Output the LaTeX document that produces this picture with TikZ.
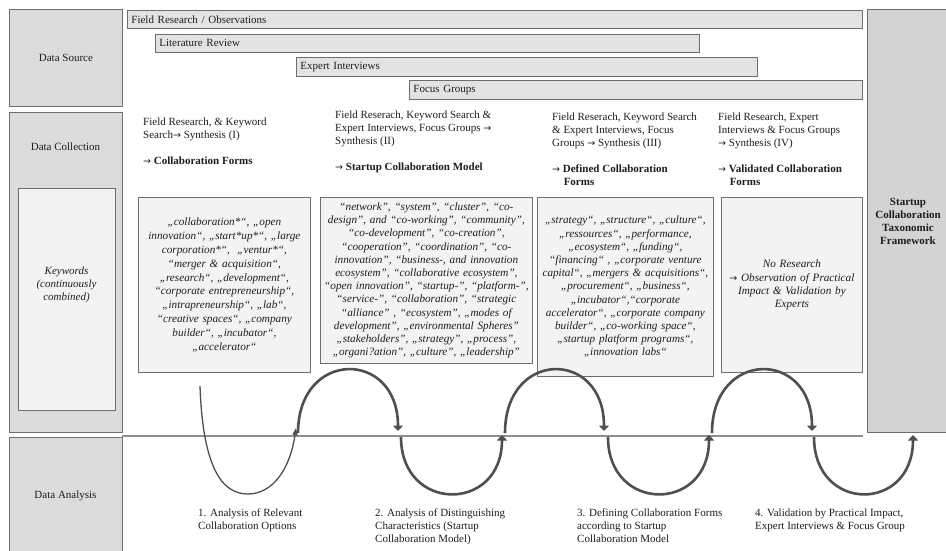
\documentclass[tikz,border=0pt]{standalone}
\usepackage{fontspec}
\setmainfont{Liberation Serif}
\newfontfamily\arrfont{DejaVu Sans}
\usetikzlibrary{arrows.meta}
\definecolor{boxgray}{HTML}{DCDCDC}
\definecolor{bargray}{HTML}{E3E3E3}
\definecolor{kwgray}{HTML}{F3F3F3}
\definecolor{edgegray}{HTML}{6E6E6E}
\definecolor{arcgray}{HTML}{4F4F4F}
\definecolor{linegray}{HTML}{8E8E8E}
\definecolor{txt}{HTML}{1E1E1E}
\newcommand{\kwfont}{\fontsize{11.2}{13.2}\selectfont\itshape}
\newcommand{\hdfont}{\fontsize{11}{13}\selectfont}
\newcommand{\arr}{{\arrfont\fontsize{9.5}{9.5}\selectfont →}}
\tikzset{
  sidebox/.style={draw=edgegray, fill=boxgray, line width=0.8pt, anchor=north west, inner sep=0pt},
  innerbox/.style={draw=edgegray, fill=kwgray, line width=0.8pt, anchor=north west, inner sep=0pt},
  barbox/.style={draw=edgegray, fill=bargray, line width=0.8pt, anchor=north west, inner xsep=4pt, inner ysep=0pt, align=left, font=\hdfont, text=txt},
  kwbox/.style={draw=edgegray, fill=kwgray, line width=0.8pt, anchor=north west, inner xsep=1pt, inner ysep=0pt, align=center, font=\kwfont, text=txt},
  sidelabel/.style={font=\hdfont, text=txt, align=center},
  head/.style={font=\hdfont, text=txt, align=left, anchor=north west, inner sep=0pt},
  foot/.style={font=\hdfont, text=txt, align=left, anchor=north west, inner sep=0pt},
  uparc/.style={draw=arcgray, line width=2.6pt, -{Triangle[width=10pt,length=5.5pt]}},
  thinarc/.style={draw=arcgray, line width=1.3pt, -{Triangle[width=5pt,length=7pt]}},
}
\begin{document}
\begin{tikzpicture}[x=1pt,y=-1pt]
\clip (0,0) rectangle (946,550);
\fill[white] (0,0) rectangle (946,550);

% left column
\node[sidebox, minimum width=113, minimum height=97] (ds) at (9,9) {};
\node[sidelabel] (dslabel) at (ds.center) {Data Source};
\node[sidebox, minimum width=113, minimum height=320] (dc) at (9,112) {};
\node[sidelabel] (dclabel) at (65.5,147) {Data Collection};
\node[innerbox, minimum width=97, minimum height=222] (kw) at (18,188) {};
\node[sidelabel, font=\hdfont\itshape] (kwlabel) at (66.5,285) {Keywords\\(continuously\\combined)};
\node[sidebox, minimum width=113, minimum height=120] (da) at (9,437) {};
\node[sidelabel] (dalabel) at (65.5,496) {Data Analysis};

% right column
\node[sidebox, fill=boxgray!96!black, minimum width=85, minimum height=423] (tf) at (867,9) {};
\node[sidelabel, font=\hdfont\bfseries, anchor=north] (tflabel) at (908,195) {Startup\\Collaboration\\Taxonomic\\Framework};

% data source bars
\node[barbox, text width=727, minimum height=18] (fr) at (127,10) {Field Research / Observations};
\node[barbox, text width=536, minimum height=18] (lr) at (155,34) {Literature Review};
\node[barbox, text width=453, minimum height=19] (ei) at (296,57) {Expert Interviews};
\node[barbox, text width=445, minimum height=19] (fg) at (409,80) {Focus Groups};

% column headers
\node[head] (h1) at (143,118) {Field Research, \& Keyword\\Search\arr{} Synthesis (I)\\[13pt]\arr{} \textbf{Collaboration Forms}};
\node[head] (h2) at (335,111) {Field Reserach, Keyword Search \&\\Expert Interviews, Focus Groups \arr\\Synthesis (II)\\[13pt]\arr{} \textbf{Startup Collaboration Model}};
\node[head] (h3) at (552,113) {Field Reserach, Keyword Search\\\& Expert Interviews, Focus\\Groups \arr{} Synthesis (III)\\[13pt]\arr{} \textbf{Defined Collaboration}\\\hspace*{1.05em}\textbf{Forms}};
\node[head] (h4) at (718,113) {Field Research, Expert\\Interviews \& Focus Groups\\\arr{} Synthesis (IV)\\[13pt]\arr{} \textbf{Validated Collaboration}\\\hspace*{1.05em}\textbf{Forms}};

% keyword boxes
\node[kwbox, text width=170, minimum height=175, font=\fontsize{11.2}{13.8}\selectfont\itshape] (k1) at (138,197) {„collaboration*“, „open\\
innovation“, „start*up*“, „large\\
corporation*“,\ \ „ventur*“,\\
“merger \& acquisition“,\\
„research“, „development“,\\
“corporate entrepreneurship“,\\
„intrapreneurship“, „lab“,\\
“creative spaces“, „company\\
builder“, „incubator“,\\
„accelerator“};
\node[kwbox, text width=210, minimum height=166] (k2) at (320,197) {“network”, “system”, “cluster”, “co-\\
design”, and “co-working”, “community”,\\
“co-development”, “co-creation”,\\
“cooperation”, “coordination”, “co-\\
innovation”, “business-, and innovation\\
ecosystem”, “collaborative ecosystem”,\\
“open innovation”, “startup-”, “platform-”,\\
“service-”, “collaboration”, “strategic\\
“alliance” , “ecosystem”, „modes of\\
development”, „environmental Spheres”\\
„stakeholders”, „strategy”, „process”,\\
„organi?ation”, „culture”, „leadership”};
\node[kwbox, text width=174, minimum height=179] (k3) at (537,197) {„strategy“, „structure“, „culture“,\\
„ressources“, „performance,\\
„ecosystem“, „funding“,\\
“financing“ , „corporate venture\\
capital“, „mergers \& acquisitions“,\\
„procurement“, „business“,\\
„incubator“,“corporate\\
accelerator“, „corporate company\\
builder“, „co-working space“,\\
„startup platform programs“,\\
„innovation labs“};
\node[kwbox, text width=139, minimum height=175] (k4) at (721,197) {No Research\\\arr{} Observation of Practical\\Impact \& Validation by\\Experts};

% timeline
\coordinate (hlA) at (122,436);
\coordinate (hlB) at (863,436);
\draw[linegray, line width=1.4pt] (hlA) -- (hlB);

\coordinate (t0) at (200,386);
\coordinate (t1) at (296,428);
\coordinate (u1a) at (298,433);
\coordinate (u1b) at (398,431);
\coordinate (l1a) at (401,437);
\coordinate (l1b) at (502,435);
\coordinate (u2a) at (505,433);
\coordinate (u2b) at (604,431);
\coordinate (l2a) at (608,437);
\coordinate (l2b) at (709,435);
\coordinate (u3a) at (712,433);
\coordinate (u3b) at (812,431);
\coordinate (l3a) at (814,437);
\coordinate (l3b) at (913,435);

\draw[thinarc] (t0) .. controls (203,472) and (224,494) .. (248,494) .. controls (272,494) and (290,470) .. (t1);
\draw[uparc] (u1a) .. controls (298,349) and (398,349) .. (u1b);
\draw[uparc] (l1a) .. controls (401,513) and (502,513) .. (l1b);
\draw[uparc] (u2a) .. controls (505,349) and (604,349) .. (u2b);
\draw[uparc] (l2a) .. controls (608,513) and (709,513) .. (l2b);
\draw[uparc] (u3a) .. controls (712,349) and (812,349) .. (u3b);
\draw[uparc] (l3a) .. controls (814,513) and (913,513) .. (l3b);

% step labels
\node[foot] (s1) at (198,509) {1. Analysis of Relevant\\Collaboration Options};
\node[foot] (s2) at (375,509) {2. Analysis of Distinguishing\\Characteristics (Startup\\Collaboration Model)};
\node[foot] (s3) at (577,509) {3. Defining Collaboration Forms\\according to Startup\\Collaboration Model};
\node[foot] (s4) at (755,509) {4. Validation by Practical Impact,\\Expert Interviews \& Focus Group};
\end{tikzpicture}
\end{document}
